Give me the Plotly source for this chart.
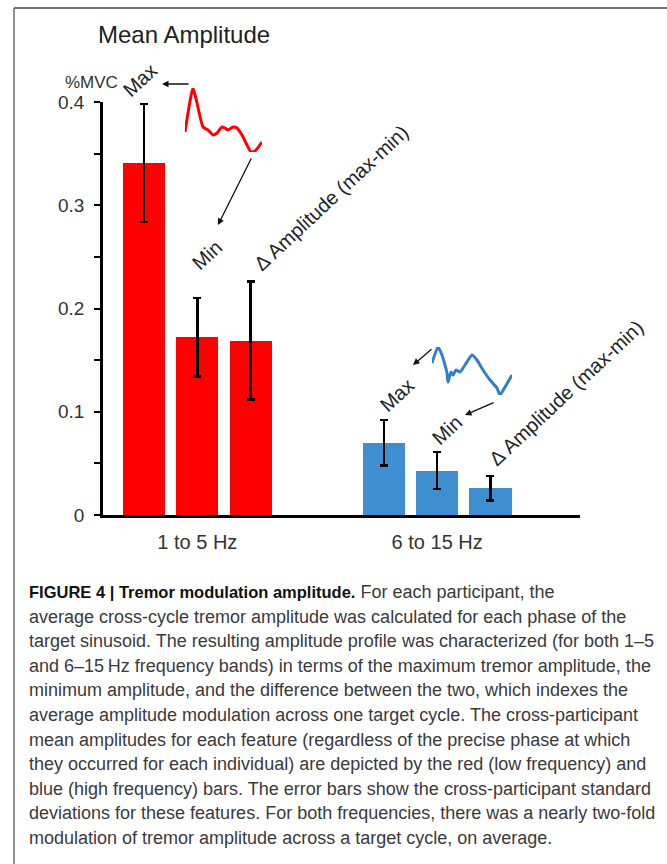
import plotly.graph_objects as go

# ---- data -------------------------------------------------------------
features = ["Max", "Min", "\u0394 Amplitude (max-min)"]
bands = ["1 to 5 Hz", "6 to 15 Hz"]

low_mean = [0.341, 0.172, 0.169]
low_sd = [0.057, 0.038, 0.057]
high_mean = [0.070, 0.043, 0.026]
high_sd = [0.022, 0.018, 0.012]

y_ticks = [0, 0.1, 0.2, 0.3, 0.4]
y_ticktext = ["0", "0.1", "0.2", "0.3", "0.4"]

# schematic amplitude profiles over one target cycle (time, amplitude)
red_wave_t = [0, 8, 12, 18, 23, 28, 32, 37, 40, 43, 48, 52, 57, 62, 66, 70, 77]
red_wave_a = [20, 64, 49, 25, 22, 17, 19, 25, 24, 22, 25, 24, 17, 7, 0, 1, 10]
blue_wave_t = [0, 6, 10, 13, 15, 16, 19, 21, 24, 28, 33, 40, 45, 51, 58, 65, 68, 73, 80]
blue_wave_a = [32, 48, 40, 30, 22, 13, 23, 20, 25, 23, 30, 40, 35, 25, 15, 7, 0, 8, 20]

caption_head = "FIGURE 4 | Tremor modulation amplitude."
caption_lines = [
    " For each participant, the",
    "average cross-cycle tremor amplitude was calculated for each phase of the",
    "target sinusoid. The resulting amplitude profile was characterized (for both 1\u20135",
    "and 6\u201315\u2009Hz frequency bands) in terms of the maximum tremor amplitude, the",
    "minimum amplitude, and the difference between the two, which indexes the",
    "average amplitude modulation across one target cycle. The cross-participant",
    "mean amplitudes for each feature (regardless of the precise phase at which",
    "they occurred for each individual) are depicted by the red (low frequency) and",
    "blue (high frequency) bars. The error bars show the cross-participant standard",
    "deviations for these features. For both frequencies, there was a nearly two-fold",
    "modulation of tremor amplitude across a target cycle, on average.",
]

# ---- layout helpers ---------------------------------------------------
W, H = 667, 864
RED = "#ff0000"
BLUE = "#3f8fd0"
FONT = "Liberation Sans, Arial, sans-serif"


def px(x):
    return x / W


def py(y):
    return 1 - y / H


group_gap = 4.5
low_x = [i for i in range(len(features))]
high_x = [group_gap + i for i in range(len(features))]
band_x = [sum(low_x) / len(low_x), sum(high_x) / len(high_x)]

fig = go.Figure()

err_style = dict(type="data", thickness=2.4, width=4, color="black")

fig.add_trace(go.Bar(
    x=low_x, y=low_mean, width=0.79, marker=dict(color=RED, line_width=0),
    error_y=dict(array=low_sd, **err_style), showlegend=False,
))
fig.add_trace(go.Bar(
    x=high_x, y=high_mean, width=0.79, marker=dict(color=BLUE, line_width=0),
    error_y=dict(array=high_sd, **err_style), showlegend=False,
))

# inset waveforms
fig.add_trace(go.Scatter(
    x=red_wave_t, y=red_wave_a, mode="lines", xaxis="x2", yaxis="y2",
    line=dict(color=RED, width=3, shape="spline", smoothing=0.5),
    showlegend=False, hoverinfo="skip",
))
fig.add_trace(go.Scatter(
    x=blue_wave_t, y=blue_wave_a, mode="lines", xaxis="x3", yaxis="y3",
    line=dict(color="#2f80c8", width=3, shape="spline", smoothing=0.5),
    showlegend=False, hoverinfo="skip",
))

hidden = dict(visible=False, fixedrange=True)

fig.update_layout(
    width=W, height=H,
    margin=dict(l=0, r=0, t=0, b=0, pad=0, autoexpand=False),
    paper_bgcolor="white", plot_bgcolor="white",
    font=dict(family=FONT, color="#333333"),
    bargap=0,
    xaxis=dict(
        domain=[px(103), px(580)], range=[-0.77, 8.18], automargin=False,
        showline=True, linewidth=2.5, linecolor="black",
        showgrid=False, zeroline=False, ticks="",
        tickvals=band_x, ticktext=bands,
        tickfont=dict(size=20, color="#333333"),
        ticklabelstandoff=7,
    ),
    yaxis=dict(
        domain=[py(515), py(102)], range=[0, 0.4], automargin=False,
        showline=True, linewidth=2.5, linecolor="black",
        showgrid=False, zeroline=False,
        ticks="outside", ticklen=6, tickwidth=2, tickcolor="black",
        tickvals=y_ticks, ticktext=y_ticktext,
        tickfont=dict(size=19, color="#333333"),
        ticklabelstandoff=6,
        minor=dict(dtick=0.05, ticks="outside", ticklen=6, tickwidth=2,
                   tickcolor="black"),
    ),
    xaxis2=dict(domain=[px(185), px(262)], range=[0, 77], anchor="y2", **hidden),
    yaxis2=dict(domain=[py(152), py(88)], range=[0, 64], anchor="x2", **hidden),
    xaxis3=dict(domain=[px(432), px(512)], range=[0, 80], anchor="y3", **hidden),
    yaxis3=dict(domain=[py(395), py(347)], range=[0, 48], anchor="x3", **hidden),
)

ann = []
ann.append(dict(text="Mean Amplitude", x=px(96), y=py(34), xanchor="left",
                yanchor="middle", font=dict(size=24, color="#222222")))
ann.append(dict(text="%MVC", x=px(63), y=py(82), xanchor="left",
                yanchor="middle", font=dict(size=17, color="#333333")))

# rotated feature labels
label_pos = [
    (features[0], 140, 80), (features[1], 207, 255), (features[2], 331, 198),
    (features[0], 397, 395), (features[1], 447, 430), (features[2], 566, 393),
]
for txt, lx, ly in label_pos:
    ann.append(dict(text=txt, x=px(lx), y=py(ly), xanchor="center",
                    yanchor="middle", textangle=-43,
                    font=dict(size=20, color="#222222")))

# pointer arrows from the waveforms to the labels (head, tail offset)
arrows = [(162, 84, 28, 0), (218, 225, 34, -68), (413, 365, 20, -17),
          (465, 415, 30, -13)]
for hx, hy, dx, dy in arrows:
    ann.append(dict(text="", x=px(hx), y=py(hy), xref="paper", yref="paper",
                    showarrow=True, ax=dx, ay=dy, arrowhead=2, arrowsize=1,
                    arrowwidth=1.3, arrowcolor="#111111", standoff=0))

# caption: bold heading then regular body text
for i, line in enumerate(caption_lines):
    if i == 0:
        line = ("<b><span style='font-size:16.5px;color:#111111'>"
                + caption_head + "</span></b>" + line)
    ann.append(dict(text=line, x=px(27), y=py(592 + i * 24.6), xanchor="left",
                    yanchor="middle",
                    font=dict(size=18, color="#3a3a3a", family=FONT)))

for a in ann:
    a.setdefault("xref", "paper")
    a.setdefault("yref", "paper")
    a.setdefault("showarrow", False)
fig.update_layout(annotations=ann)

# panel frame (left and top edges)
fig.update_layout(shapes=[
    dict(type="line", xref="paper", yref="paper", x0=px(14), x1=px(14),
         y0=py(8), y1=0, line=dict(color="#555555", width=1.3)),
    dict(type="line", xref="paper", yref="paper", x0=px(14), x1=1,
         y0=py(8), y1=py(8), line=dict(color="#444444", width=1.6)),
])

fig.write_html("out.html")
